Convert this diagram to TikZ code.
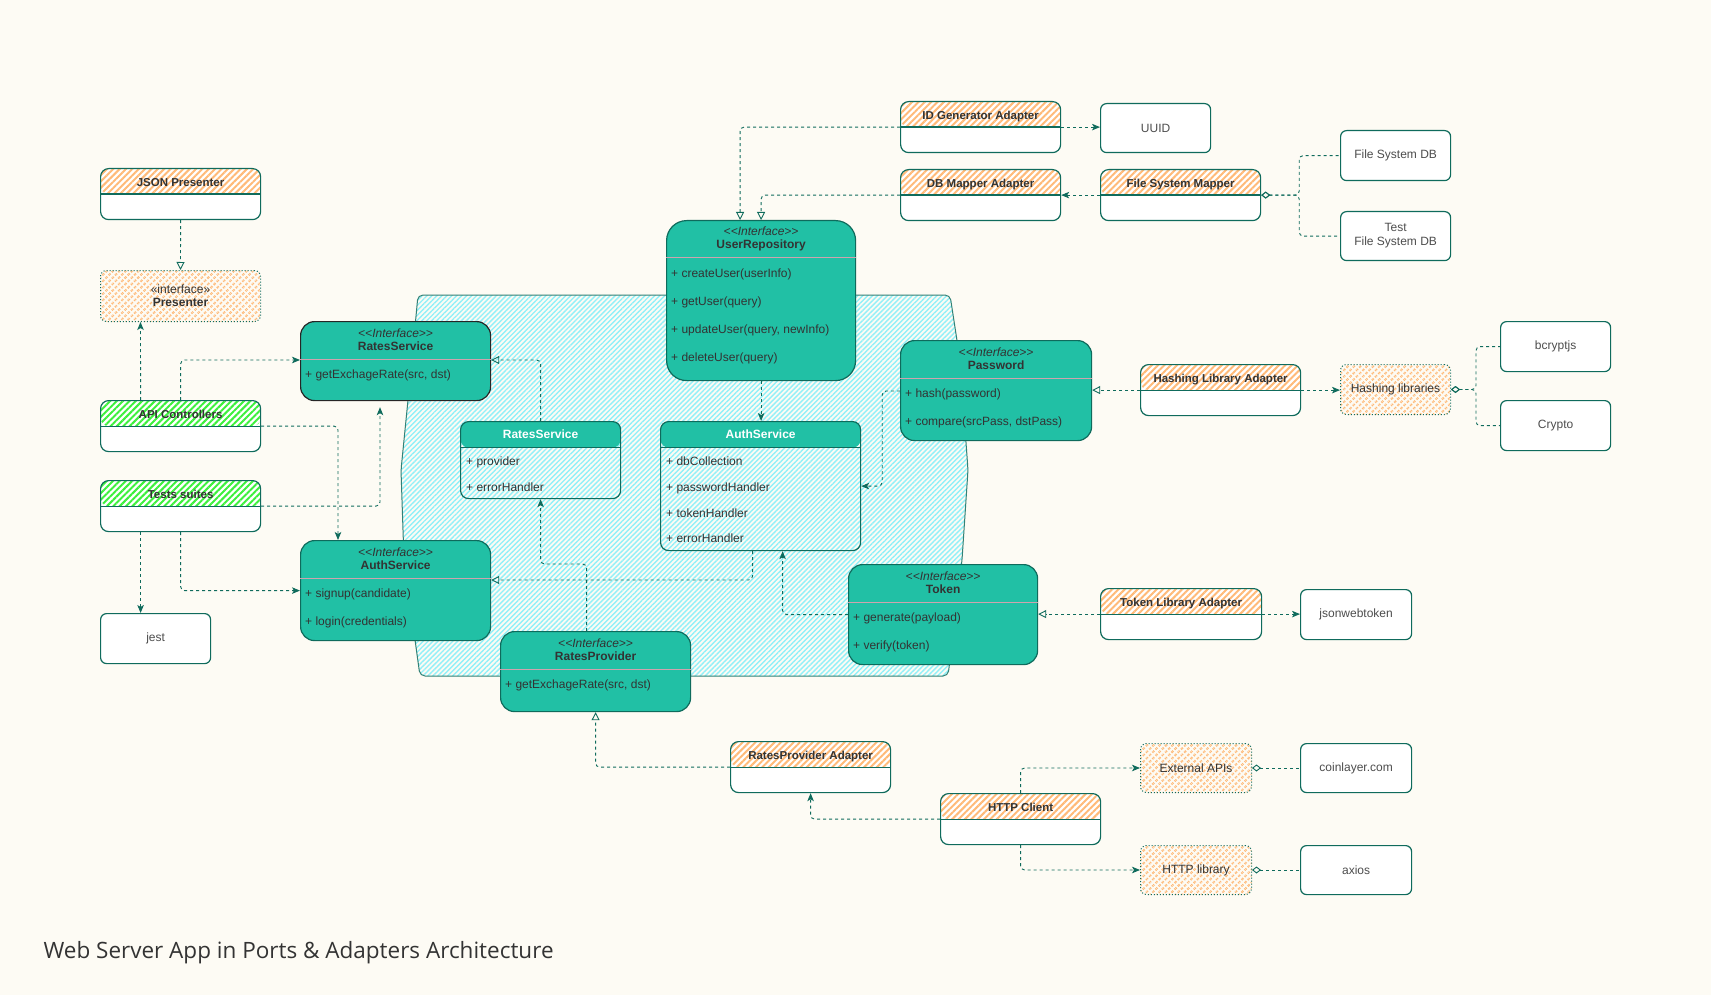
\documentclass[tikz,border=0pt]{standalone}
\usepackage{fontspec}
\setmainfont{Liberation Sans}
\newfontfamily\titlefont{Open Sans}
\usetikzlibrary{arrows.meta,patterns.meta}

\definecolor{bg}{HTML}{FDFBF4}
\definecolor{tealline}{HTML}{0F6B5C}
\definecolor{tealfill}{HTML}{21C0A5}
\definecolor{hatchorange}{HTML}{FFBA78}
\definecolor{hatchgreen}{HTML}{3CF03C}
\definecolor{hatchcyan}{HTML}{92F0F8}
\definecolor{splitpink}{HTML}{CFA3AE}
\definecolor{txt}{HTML}{333333}
\definecolor{txtgray}{HTML}{4D4D4D}

\newcommand\stereo{\textit{<\kern0pt<Interface>\kern0pt>}}

\begin{document}
\begin{tikzpicture}[x=1pt, y=-1pt,
    link/.style={draw=tealline, line width=0.9pt, dash pattern=on 3pt off 3pt, rounded corners=4pt},
    uses/.style={link, -{Stealth[length=8pt,width=6.5pt,inset=2pt]}},
    impl/.style={link, -{Triangle[open,length=8pt,width=8pt]}},
    agg/.style={link, {Diamond[open,length=9pt,width=7pt]}-},
    adapter/.style={draw=tealline, line width=1.2pt, fill=white, rounded corners=8pt, anchor=north west,
        minimum width=160pt, inner ysep=0pt, text height=18pt, text depth=33pt, text=txt,
        font=\fontsize{11.5}{13}\selectfont\bfseries,
        path picture={\fill[pattern={Lines[angle=45,distance=4.5pt,line width=2pt]}, pattern color=#1]
            (path picture bounding box.north west) rectangle (path picture bounding box.east);
            \draw[tealline, line width=1.2pt] (path picture bounding box.west) -- (path picture bounding box.east);}},
    adapter/.default=hatchorange,
    lib/.style={draw=tealline, line width=1pt, dotted, rounded corners=6pt, anchor=north west,
        minimum width=111pt, minimum height=49pt, align=center, text=txt, font=\fontsize{12}{13}\selectfont,
        pattern={Lines[angle=45,distance=4.5pt,line width=2pt]}, pattern color=hatchorange},
    ext/.style={draw=tealline, line width=1.2pt, fill=white, rounded corners=6pt, anchor=north west,
        minimum width=110pt, minimum height=50pt, align=center, text=txtgray, font=\fontsize{12}{14}\selectfont},
    iface/.style={draw=tealline, line width=1.2pt, fill=tealfill, rounded corners=14pt, anchor=north west},
    cls/.style={draw=tealline, line width=1.2pt, rounded corners=8pt, anchor=north west,
        path picture={\fill[tealfill] (path picture bounding box.north west) rectangle ([yshift=-26pt]path picture bounding box.north east);
            \draw[tealline, line width=1.2pt] ([yshift=-26pt]path picture bounding box.north west) -- ([yshift=-26pt]path picture bounding box.north east);}},
    ititle/.style={align=center, inner sep=0pt, text=txt, font=\fontsize{12}{13}\selectfont},
    ctitle/.style={inner sep=0pt, text=white, font=\fontsize{12}{14}\selectfont\bfseries},
    split/.style={draw=splitpink, line width=1pt},
    mem/.style={anchor=north west, align=left, inner sep=0pt, text=txt, font=\fontsize{12}{28}\selectfont}]

    \path[use as bounding box, fill=bg] (0,0) rectangle (1711,995);

    \draw[tealline!85, line width=1pt, rounded corners=5pt,
        pattern={Lines[angle=45,distance=3.5pt,line width=1.4pt]}, pattern color=hatchcyan]
        (418,295) -- (950,295) -- (960,360) -- (968,470) -- (962,560) -- (948,676)
        -- (420,676) -- (404,560) -- (401,470) -- (410,380) -- cycle;

    \node[adapter] (jsonP) at (100,168) {JSON Presenter};
    \node[lib, minimum width=160pt, minimum height=51pt] (presenter) at (100,270) {«interface»\\\textbf{Presenter}};
    \node[adapter=hatchgreen] (api) at (100,400) {API Controllers};
    \node[adapter=hatchgreen] (tests) at (100,480) {Tests suites};
    \node[ext] (jest) at (100,613) {jest};

    \node[iface, draw=black!85, minimum width=190pt, minimum height=79pt] (rsI) at (300,321) {};
    \node[ititle] (rsI-t) at ([yshift=-19pt]rsI.north) {\stereo\\\textbf{RatesService}};
    \draw[split] ([yshift=-38pt]rsI.north west) -- ([yshift=-38pt]rsI.north east);
    \node[mem] (rsI-m) at ([xshift=5pt,yshift=-49pt]rsI.north west) {+ getExchageRate(src, dst)};

    \node[iface, minimum width=190pt, minimum height=100pt] (asI) at (300,540) {};
    \node[ititle] (asI-t) at ([yshift=-19pt]asI.north) {\stereo\\\textbf{AuthService}};
    \draw[split] ([yshift=-38pt]asI.north west) -- ([yshift=-38pt]asI.north east);
    \node[mem] (asI-m) at ([xshift=5pt,yshift=-49pt]asI.north west) {+ signup(candidate)\\+ login(credentials)};

    \node[iface, rounded corners=20pt, minimum width=189pt, minimum height=160pt] (ur) at (666,220) {};
    \node[ititle] (ur-t) at ([yshift=-19pt]ur.north) {\stereo\\\textbf{UserRepository}};
    \draw[split] ([yshift=-38pt]ur.north west) -- ([yshift=-38pt]ur.north east);
    \node[mem] (ur-m) at ([xshift=5pt,yshift=-49pt]ur.north west) {+ createUser(userInfo)\\+ getUser(query)\\+ updateUser(query, newInfo)\\+ deleteUser(query)};

    \node[iface, minimum width=191pt, minimum height=100pt] (pw) at (900,340) {};
    \node[ititle] (pw-t) at ([yshift=-19pt]pw.north) {\stereo\\\textbf{Password}};
    \draw[split] ([yshift=-38pt]pw.north west) -- ([yshift=-38pt]pw.north east);
    \node[mem] (pw-m) at ([xshift=5pt,yshift=-49pt]pw.north west) {+ hash(password)\\+ compare(srcPass, dstPass)};

    \node[iface, minimum width=189pt, minimum height=100pt] (token) at (848,564) {};
    \node[ititle] (token-t) at ([yshift=-19pt]token.north) {\stereo\\\textbf{Token}};
    \draw[split] ([yshift=-38pt]token.north west) -- ([yshift=-38pt]token.north east);
    \node[mem] (token-m) at ([xshift=5pt,yshift=-49pt]token.north west) {+ generate(payload)\\+ verify(token)};

    \node[iface, minimum width=190pt, minimum height=80pt] (rp) at (500,631) {};
    \node[ititle] (rp-t) at ([yshift=-19pt]rp.north) {\stereo\\\textbf{RatesProvider}};
    \draw[split] ([yshift=-38pt]rp.north west) -- ([yshift=-38pt]rp.north east);
    \node[mem] (rp-m) at ([xshift=5pt,yshift=-49pt]rp.north west) {+ getExchageRate(src, dst)};

    \node[cls, minimum width=160pt, minimum height=77pt] (rsC) at (460,421) {};
    \node[ctitle] (rsC-t) at ([yshift=-13pt]rsC.north) {RatesService};
    \node[mem, font=\fontsize{12}{25.7}\selectfont] (rsC-m) at ([xshift=6pt,yshift=-36pt]rsC.north west) {+ provider\\+ errorHandler};

    \node[cls, minimum width=200pt, minimum height=129pt] (asC) at (660,421) {};
    \node[ctitle] (asC-t) at ([yshift=-13pt]asC.north) {AuthService};
    \node[mem, font=\fontsize{12}{25.7}\selectfont] (asC-m) at ([xshift=6pt,yshift=-36pt]asC.north west) {+ dbCollection\\+ passwordHandler\\+ tokenHandler\\+ errorHandler};

    \node[adapter] (idg) at (900,101) {ID Generator Adapter};
    \node[adapter] (dbm) at (900,169) {DB Mapper Adapter};
    \node[adapter] (fsm) at (1100,169) {File System Mapper};
    \node[ext, minimum height=49pt] (uuid) at (1100,103) {UUID};
    \node[ext] (fsdb) at (1340,130) {File System DB};
    \node[ext, minimum height=49pt] (tfsdb) at (1340,211) {Test\\File System DB};

    \node[adapter] (hla) at (1140,364) {Hashing Library Adapter};
    \node[lib, minimum width=110pt, minimum height=50pt] (hlib) at (1340,364) {Hashing libraries};
    \node[ext] (bcrypt) at (1500,321) {bcryptjs};
    \node[ext] (crypto) at (1500,400) {Crypto};

    \node[adapter, minimum width=161pt] (tla) at (1100,588) {Token Library Adapter};
    \node[ext, minimum width=111pt] (jwt) at (1300,589) {jsonwebtoken};

    \node[adapter] (rpa) at (730,741) {RatesProvider Adapter};
    \node[adapter] (http) at (940,793) {HTTP Client};
    \node[lib] (extapi) at (1140,743) {External APIs};
    \node[lib] (httplib) at (1140,845) {HTTP library};
    \node[ext, minimum width=111pt, minimum height=49pt] (coin) at (1300,743) {coinlayer.com};
    \node[ext, minimum width=111pt, minimum height=49pt] (axios) at (1300,845) {axios};

    \draw[impl] (jsonP.south) -- (presenter.north);
    \draw[uses] ([xshift=-40pt]api.north) -- ([xshift=-40pt]presenter.south);
    \draw[uses] (api.north) |- ([yshift=-39pt]rsI.north west);
    \draw[uses] (api.east) -| ([xshift=38pt]asI.north west);
    \draw[uses, shorten >=6pt] (tests.east) -| ([xshift=80pt]rsI.south west);
    \draw[uses] ([xshift=-40pt]tests.south) -- ([xshift=-40pt]tests.south |- jest.north);
    \draw[uses] (tests.south) |- (asI.west);

    \draw[impl] (rsC.north) |- ([yshift=-39pt]rsI.north east);
    \draw[uses] ([xshift=-9pt]rp.north) -- ++(0,-67) -| (rsC.south);
    \draw[impl] ([xshift=-8pt]asC.south) |- ([yshift=-40pt]asI.north east);
    \draw[uses] (token.west) -| ([xshift=22pt]asC.south);
    \draw[uses] (ur.south) -- (ur.south |- asC.north);
    \draw[uses] ([yshift=-51pt]pw.north west) -| ([xshift=21pt]asC.east) -- (asC.east);

    \draw[impl] (idg.west) -| ([xshift=-21pt]ur.north);
    \draw[uses] (idg.east) -- (idg.east -| uuid.west);
    \draw[impl] (dbm.west) -| (ur.north);
    \draw[uses] (fsm.west) -- (dbm.east);
    \draw[agg] (fsm.east) -- ++(38,0) |- (fsdb.west);
    \draw[agg] (fsm.east) -- ++(38,0) |- (tfsdb.west);

    \draw[impl] (hla.west) -- (hla.west -| pw.east);
    \draw[uses] (hla.east) -- (hla.east -| hlib.west);
    \draw[agg] (hlib.east) -- ++(25,0) |- (bcrypt.west);
    \draw[agg] (hlib.east) -- ++(25,0) |- (crypto.west);

    \draw[impl] (tla.west) -- (tla.west -| token.east);
    \draw[uses] (tla.east) -- (tla.east -| jwt.west);

    \draw[impl] (rpa.west) -| (rp.south);
    \draw[uses] (http.west) -| (rpa.south);
    \draw[uses] (http.north) |- (extapi.west);
    \draw[uses] (http.south) |- (httplib.west);
    \draw[agg] (extapi.east) -- (extapi.east -| coin.west);
    \draw[agg] (httplib.east) -- (httplib.east -| axios.west);

    \node[anchor=base west, text=txt, font=\titlefont\fontsize{22.5}{27}\selectfont] (title) at (40,958)
        {Web Server App in Ports \& Adapters Architecture};
\end{tikzpicture}
\end{document}
